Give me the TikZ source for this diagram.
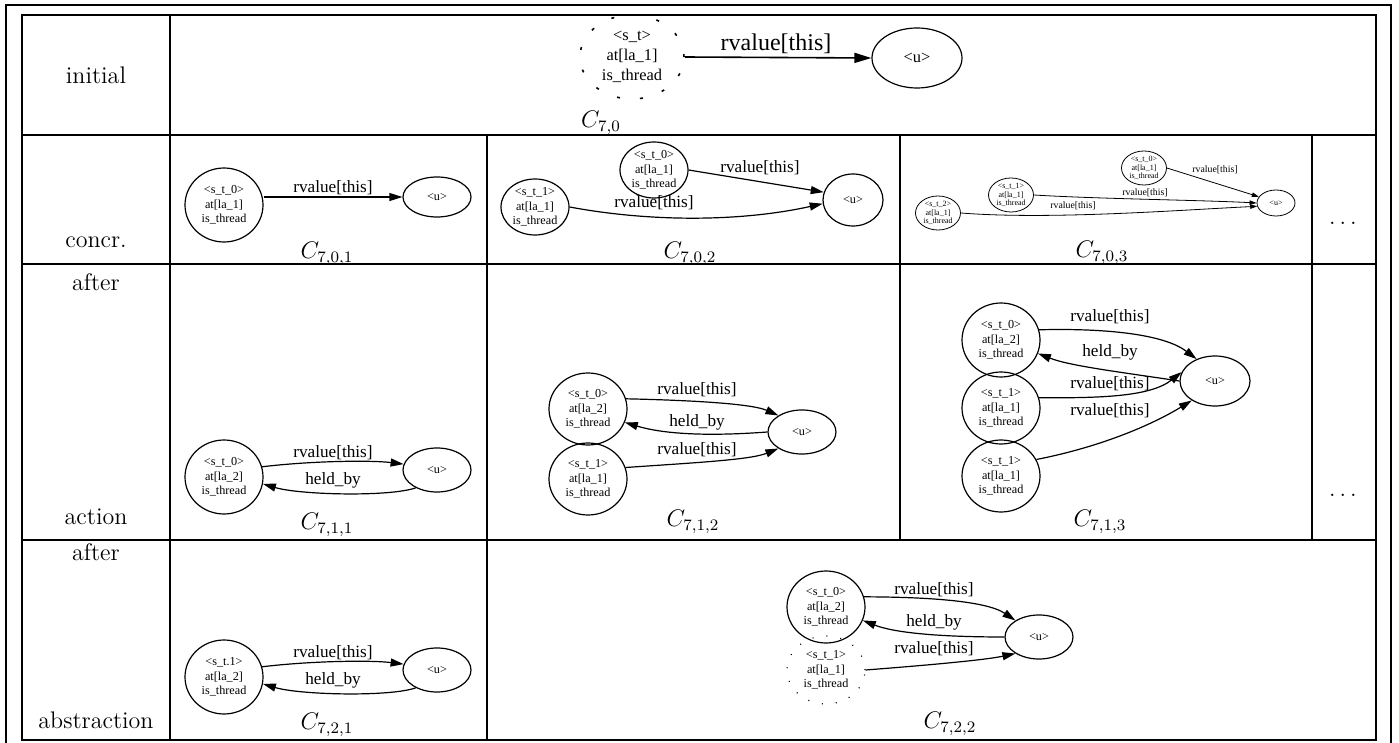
\documentclass[tikz,border=0pt]{standalone}
\usepackage{fontspec}
\newfontfamily\gvfont{Liberation Serif}
\usetikzlibrary{shapes.geometric,arrows.meta}

\begin{document}
\begin{tikzpicture}[x=0.5pt,y=-0.5pt,
  tabline/.style={line width=1.1pt},
  rowlab/.style={font=\fontsize{12}{14}\selectfont, inner sep=0pt},
  cfglab/.style={font=\fontsize{12}{14}\selectfont, inner sep=0pt},
  st/.style={draw, ellipse, line width=0.6pt, inner sep=0pt, align=center,
    minimum width=39pt, minimum height=37pt,
    font=\gvfont\fontsize{6.1}{7.3}\selectfont},
  uu/.style={st, minimum width=34pt, minimum height=22pt},
  smallst/.style={st, line width=0.4pt, minimum width=22.5pt, minimum height=17pt,
    font=\gvfont\fontsize{4}{4.2}\selectfont},
  lab/.style={font=\gvfont\fontsize{8.6}{10}\selectfont, inner sep=0pt},
  smalllab/.style={font=\gvfont\fontsize{4.9}{6}\selectfont, inner sep=0pt},
  gvedge/.style={line width=0.6pt, -{Triangle[length=6.5pt,width=4pt]}},
  smalledge/.style={line width=0.4pt, -{Triangle[length=3.5pt,width=2.2pt]}}
]
\useasboundingbox (0,0) rectangle (1399,743);

% frame and table
\draw[line width=1pt] (5.5,748) |- (1391,5.5) -- (1391,748);
\draw[tabline] (22,15) rectangle (1376,740);
\draw[tabline] (22,135) -- (1376,135);
\draw[tabline] (22,264) -- (1376,264);
\draw[tabline] (22,540) -- (1376,540);
\draw[tabline] (170,15) -- (170,740);
\draw[tabline] (487,135) -- (487,740);
\draw[tabline] (900,135) -- (900,540);
\draw[tabline] (1312,135) -- (1312,540);

% row labels
\node[rowlab] (rinit) at (96,75) {initial};
\node[rowlab] (rconc) at (96,242) {concr.};
\node[rowlab] (raft1) at (96,282) {after};
\node[rowlab] (ract) at (96,517) {action};
\node[rowlab] (raft2) at (96,552) {after};
\node[rowlab] (rabs) at (96,720) {abstraction};

% initial
\node[st, dash pattern=on 1.5pt off 10pt, line width=0.8pt, minimum width=52pt,
  minimum height=42pt, font=\gvfont\fontsize{8.2}{10}\selectfont] (s0) at (632,57)
  {<s\_t>\\at[la\_1]\\is\_thread};
\node[uu, minimum width=45pt, minimum height=30pt,
  font=\gvfont\fontsize{8.2}{10}\selectfont] (u0) at (917,58) {<u>};
\draw[gvedge, line width=0.8pt, -{Triangle[length=8.5pt,width=5pt]}] (s0.east) -- (u0.west);
\node[lab, font=\gvfont\fontsize{12}{14}\selectfont] (l0) at (776,44) {rvalue[this]};
\node[cfglab] (c0) at (601,123) {$C_{7,0}$};

% concr. 1
\node[st] (s01) at (224,205) {<s\_t\_0>\\at[la\_1]\\is\_thread};
\node[uu, minimum height=20pt] (u01) at (437,197) {<u>};
\draw[gvedge] (s01.east |- u01.west) -- (u01.west);
\node[lab] (l01) at (333,188) {rvalue[this]};
\node[cfglab] (c01) at (327,254) {$C_{7,0,1}$};

% concr. 2
\node[st, minimum width=34pt, minimum height=28pt] (s02a) at (654,170) {<s\_t\_0>\\at[la\_1]\\is\_thread};
\node[st, minimum width=34pt, minimum height=28pt] (s02b) at (535,207) {<s\_t\_1>\\at[la\_1]\\is\_thread};
\node[uu, minimum width=30pt, minimum height=26pt] (u02) at (853,200) {<u>};
\draw[gvedge] (s02a.east) -- (u02.165);
\draw[gvedge] (s02b.east) .. controls (650,222) and (740,222) .. (u02.187);
\node[lab] (l02a) at (760,168) {rvalue[this]};
\node[lab] (l02b) at (654,203) {rvalue[this]};
\node[cfglab] (c02) at (690,254) {$C_{7,0,2}$};

% concr. 3
\node[smallst] (s03a) at (1144,168) {<s\_t\_0>\\at[la\_1]\\is\_thread};
\node[smallst] (s03b) at (1011,195) {<s\_t\_1>\\at[la\_1]\\is\_thread};
\node[smallst] (s03c) at (938,213) {<s\_t\_2>\\at[la\_1]\\is\_thread};
\node[smallst, minimum width=19pt, minimum height=13pt] (u03) at (1276,203) {<u>};
\draw[smalledge] (s03a.east) -- (u03.160);
\draw[smalledge] (s03b.east) .. controls (1100,199) and (1200,200) .. (u03.west);
\draw[smalledge] (s03c.east) .. controls (1050,220) and (1180,210) .. (u03.190);
\node[smalllab] (l03a) at (1215,170) {rvalue[this]};
\node[smalllab] (l03b) at (1145,193) {rvalue[this]};
\node[smalllab] (l03c) at (1073,206) {rvalue[this]};
\node[cfglab] (c03) at (1102,253) {$C_{7,0,3}$};
\node[cfglab] (dots1) at (1343,223) {$\dots$};

% after action 1
\node[st] (s11) at (224,477) {<s\_t\_0>\\at[la\_2]\\is\_thread};
\node[uu] (u11) at (437,470) {<u>};
\draw[gvedge] (s11.15) .. controls (310,461) and (370,460) .. (u11.170);
\draw[gvedge] (u11.220) .. controls (390,497) and (300,495) .. (s11.-10);
\node[lab] (l11a) at (333,453) {rvalue[this]};
\node[lab] (l11b) at (333,480) {held\_by};
\node[cfglab] (c11) at (327,525) {$C_{7,1,1}$};

% after action 2
\node[st, minimum height=36pt] (s12a) at (588,409) {<s\_t\_0>\\at[la\_2]\\is\_thread};
\node[st, minimum height=36pt] (s12b) at (588,479) {<s\_t\_1>\\at[la\_1]\\is\_thread};
\node[uu] (u12) at (802,432) {<u>};
\draw[gvedge] (s12a.15) .. controls (680,400) and (750,403) .. (u12.145);
\draw[gvedge] (u12.west) .. controls (700,437) and (660,433) .. (s12a.-20);
\draw[gvedge] (s12b.17) .. controls (690,463) and (750,460) .. (u12.215);
\node[lab] (l12a) at (697,390) {rvalue[this]};
\node[lab] (l12b) at (697,422) {held\_by};
\node[lab] (l12c) at (697,450) {rvalue[this]};
\node[cfglab] (c12) at (693,522) {$C_{7,1,2}$};

% after action 3
\node[st] (s13a) at (1001,340) {<s\_t\_0>\\at[la\_2]\\is\_thread};
\node[st, minimum height=36pt] (s13b) at (1001,408) {<s\_t\_1>\\at[la\_1]\\is\_thread};
\node[st, minimum height=36pt] (s13c) at (1001,476) {<s\_t\_1>\\at[la\_1]\\is\_thread};
\node[uu, minimum width=35pt, minimum height=25pt] (u13) at (1215,381) {<u>};
\draw[gvedge] (s13a.15) .. controls (1110,328) and (1165,335) .. (u13.130);
\draw[gvedge] (u13.west) .. controls (1120,372) and (1070,366) .. (s13a.-20);
\draw[gvedge] (s13b.15) .. controls (1100,398) and (1150,397) .. (u13.165);
\draw[gvedge] (s13c.25) .. controls (1110,445) and (1160,420) .. (u13.220);
\node[lab] (l13a) at (1110,317) {rvalue[this]};
\node[lab] (l13b) at (1110,352) {held\_by};
\node[lab] (l13c) at (1110,384) {rvalue[this]};
\node[lab] (l13d) at (1110,411) {rvalue[this]};
\node[cfglab] (c13) at (1100,522) {$C_{7,1,3}$};
\node[cfglab] (dots2) at (1343,495) {$\dots$};

% after abstraction 1
\node[st] (s21) at (224,677) {<s\_t.1>\\at[la\_2]\\is\_thread};
\node[uu] (u21) at (437,670) {<u>};
\draw[gvedge] (s21.15) .. controls (310,661) and (370,660) .. (u21.170);
\draw[gvedge] (u21.220) .. controls (390,697) and (300,695) .. (s21.-10);
\node[lab] (l21a) at (333,653) {rvalue[this]};
\node[lab] (l21b) at (333,680) {held\_by};
\node[cfglab] (c21) at (327,725) {$C_{7,2,1}$};

% after abstraction 2
\node[st, minimum height=36pt] (s22a) at (826,607) {<s\_t\_0>\\at[la\_2]\\is\_thread};
\node[st, minimum height=34pt, dash pattern=on 0.5pt off 6.5pt] (s22b) at (826,670)
  {<s\_t\_1>\\at[la\_1]\\is\_thread};
\node[uu] (u22) at (1039,637) {<u>};
\draw[gvedge] (s22a.15) .. controls (920,597) and (985,600) .. (u22.145);
\draw[gvedge] (u22.west) .. controls (960,637) and (900,635) .. (s22a.-20);
\draw[gvedge] (s22b.east) .. controls (930,665) and (985,660) .. (u22.215);
\node[lab] (l22a) at (934,590) {rvalue[this]};
\node[lab] (l22b) at (934,622) {held\_by};
\node[lab] (l22c) at (934,649) {rvalue[this]};
\node[cfglab] (c22) at (950,724) {$C_{7,2,2}$};
\end{tikzpicture}
\end{document}
